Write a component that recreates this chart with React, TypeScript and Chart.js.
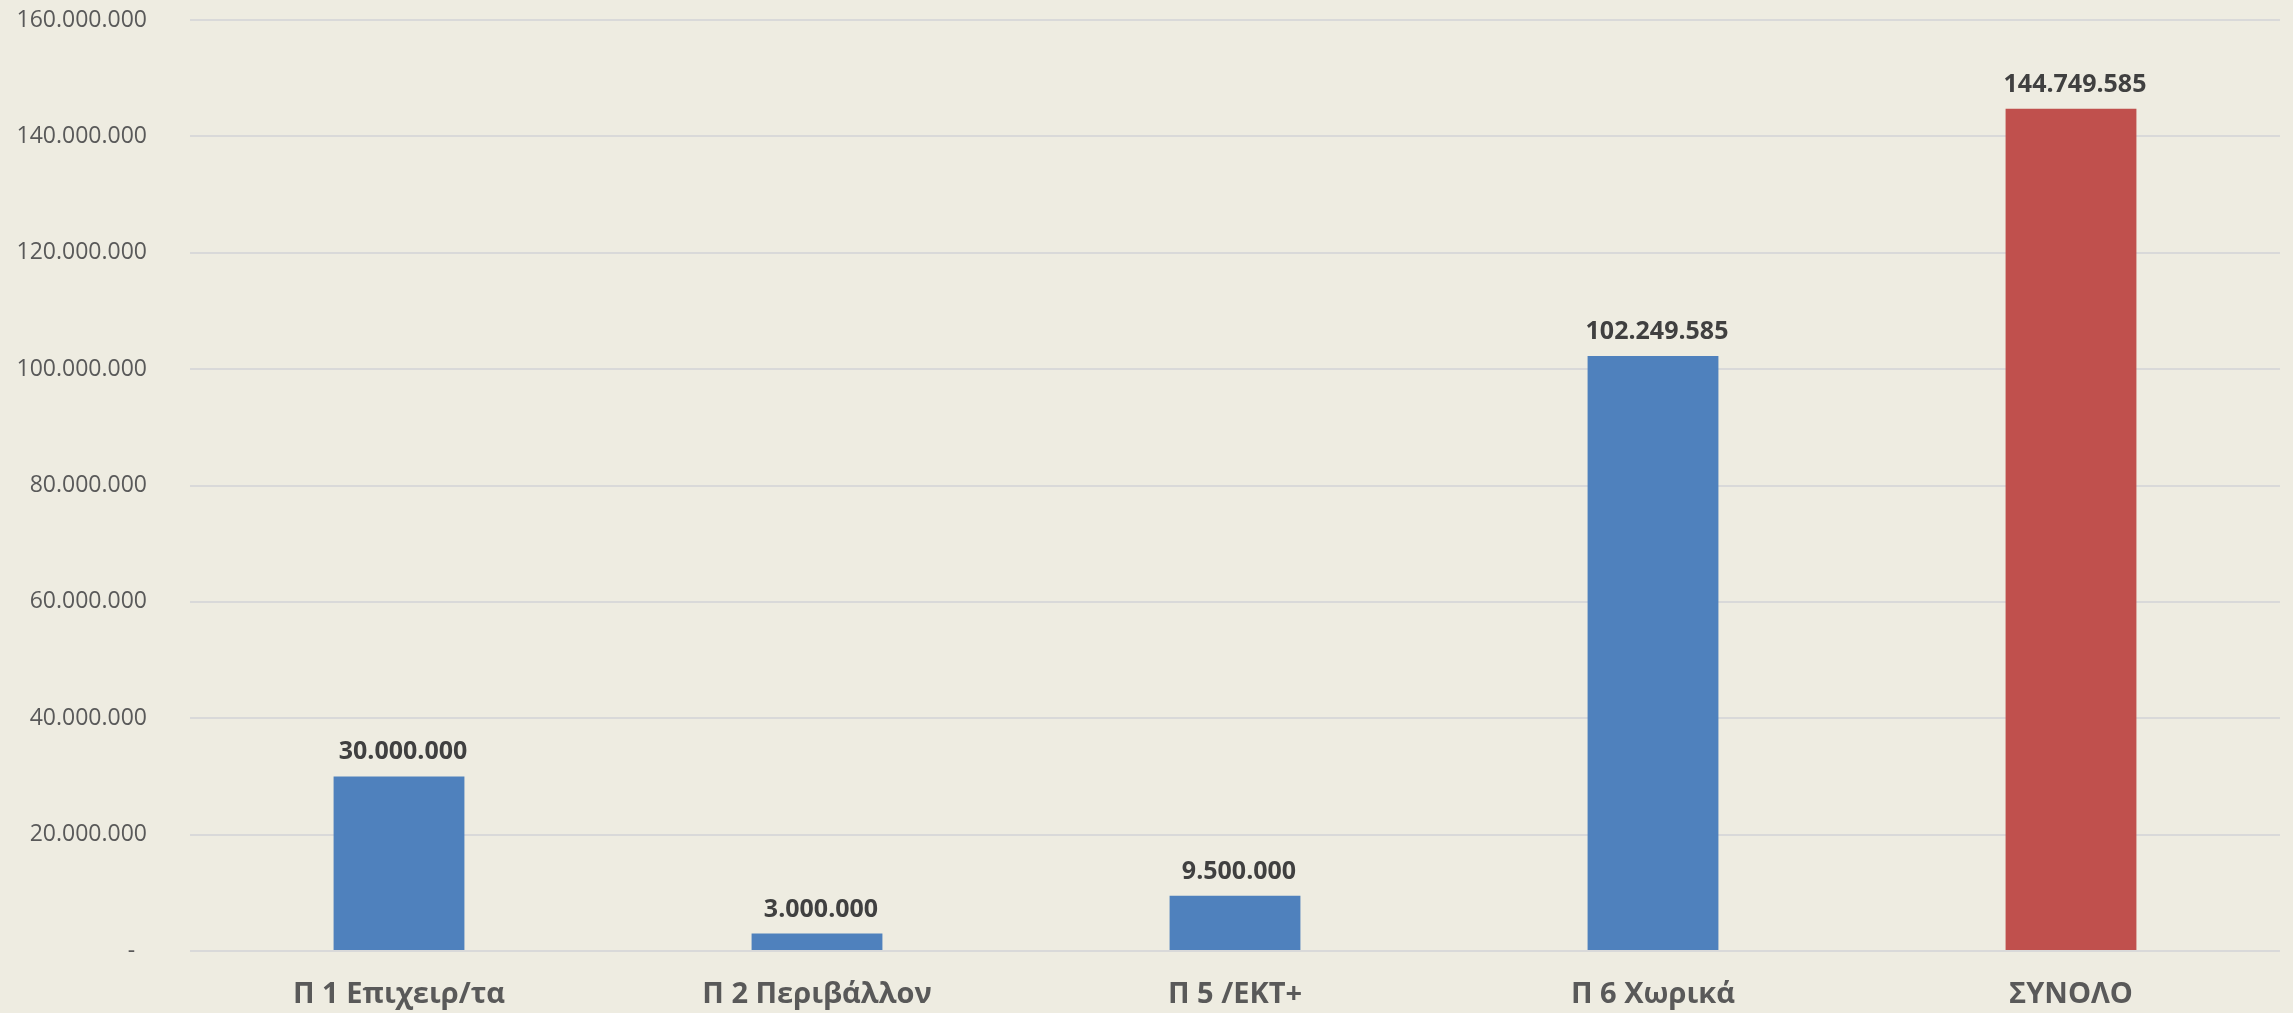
import React, { useEffect, useRef } from "react";
import { Chart, registerables } from "chart.js";

Chart.register(...registerables);

const categories = ["Π 1 Επιχειρ/τα", "Π 2 Περιβάλλον", "Π 5 /ΕΚΤ+", "Π 6 Χωρικά", "ΣΥΝΟΛΟ"];
const values = [30000000, 3000000, 9500000, 102249585, 144749585];
const barColors = ["#4F81BD", "#4F81BD", "#4F81BD", "#4F81BD", "#C0504D"];
const yMax = 160000000;
const yStep = 20000000;

const fmt = (v: number) => String(Math.round(v)).replace(/\B(?=(\d{3})+(?!\d))/g, ".");

const FONT = "'Open Sans', 'DejaVu Sans', sans-serif";

const valueLabels = {
  id: "valueLabels",
  afterDatasetsDraw(chart: any) {
    const ctx = chart.ctx;
    const meta = chart.getDatasetMeta(0);
    ctx.save();
    ctx.font = `bold 25px ${FONT}`;
    ctx.fillStyle = "#404040";
    ctx.textAlign = "center";
    ctx.textBaseline = "alphabetic";
    meta.data.forEach((el: any, i: number) => {
      const v = chart.data.datasets[0].data[i] as number;
      ctx.fillText(fmt(v), el.x + 4, el.y - 17);
    });
    ctx.restore();
  },
};

export default function App() {
  const ref = useRef<HTMLCanvasElement | null>(null);
  useEffect(() => {
    document.body.style.margin = "0";
    document.body.style.background = "#EEECE1";
    const canvas = ref.current!;
    const chart = new Chart(canvas, {
      type: "bar",
      data: {
        labels: categories,
        datasets: [
          {
            data: values,
            backgroundColor: barColors,
            borderWidth: 0,
            categoryPercentage: 1,
            barPercentage: 0.313,
          },
        ],
      },
      options: {
        responsive: false,
        animation: false,
        devicePixelRatio: 1,
        layout: { padding: { top: 20, right: 13, left: 0, bottom: 0 } },
        plugins: {
          legend: { display: false },
          tooltip: { enabled: false },
        },
        scales: {
          x: {
            grid: { display: false },
            border: { display: false },
            ticks: {
              color: "#595959",
              font: { family: FONT, size: 29, weight: "bold" },
              padding: 18,
              maxRotation: 0,
              autoSkip: false,
            },
            afterFit: (s: any) => {
              s.height = 62;
              s.paddingLeft = 0;
              s.paddingRight = 0;
            },
          },
          y: {
            min: 0,
            max: yMax,
            grid: { color: "#D9D9D9", lineWidth: 2, drawTicks: false },
            border: { display: false },
            ticks: {
              stepSize: yStep,
              color: "#595959",
              font: { family: FONT, size: 23 },
              padding: 43,
              callback: (v: any) => (Number(v) === 0 ? "-  " : fmt(Number(v))),
            },
            afterFit: (s: any) => {
              s.width = 190;
              s.paddingTop = 0;
              s.paddingBottom = 0;
            },
          },
        },
      },
      plugins: [valueLabels],
    });
    return () => chart.destroy();
  }, []);
  return (
    <div style={{ width: 2293, height: 1013, background: "#EEECE1" }}>
      <canvas ref={ref} width={2293} height={1013} style={{ display: "block" }} />
    </div>
  );
}
